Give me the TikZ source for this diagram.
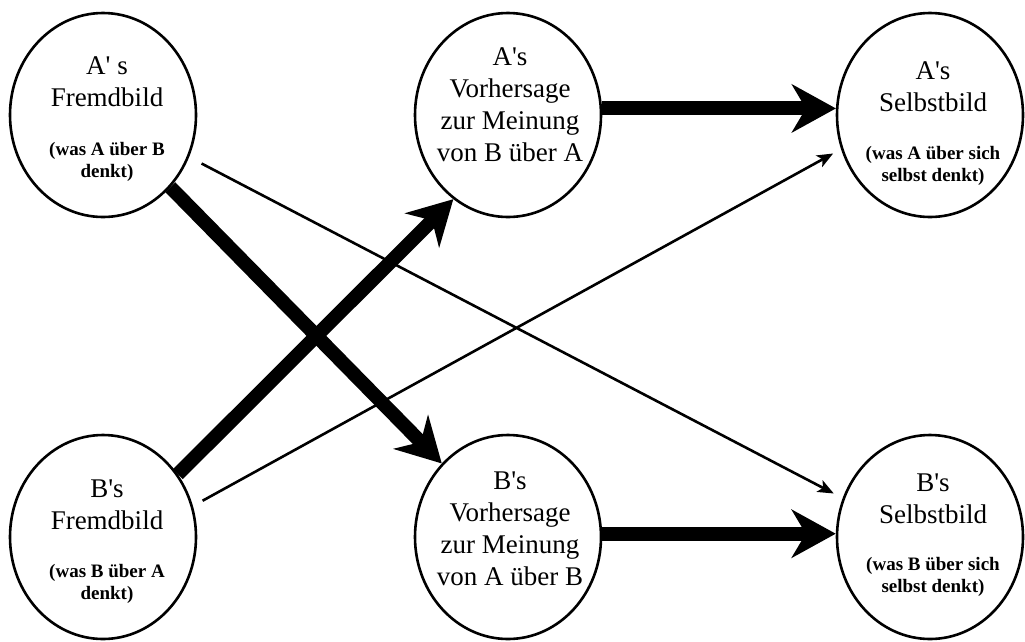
\documentclass[tikz,border=0pt]{standalone}
\usepackage{fontspec}
\setmainfont{Liberation Serif}
\usetikzlibrary{shapes.geometric,arrows.meta}

\begin{document}
\begin{tikzpicture}[x=1pt,y=-1pt,
  view/.style={draw, line width=2.6pt, ellipse, minimum width=186pt,
    minimum height=204pt, inner sep=0pt},
  bigtxt/.style={align=center, font=\fontsize{27}{32}\selectfont, inner sep=0pt},
  smalltxt/.style={align=center, font=\fontsize{19}{22}\selectfont\bfseries, inner sep=0pt},
  strong/.style={line width=14pt, -{Stealth[length=44pt,width=48pt,inset=14pt]}},
  weak/.style={line width=2.6pt, -{Stealth[length=16pt,width=13pt,inset=4pt]}}]
\useasboundingbox (0,0) rectangle (1025,641);

% the six views
\node[view] (af) at (103,115) {};
\node[view] (av) at (508,115) {};
\node[view] (as) at (930,115) {};
\node[view] (bf) at (103,537) {};
\node[view] (bv) at (508,537) {};
\node[view] (bs) at (930,537) {};

% labels
\node[bigtxt]   (af1) at (107,82)  {A\textquotesingle\ s\\Fremdbild};
\node[smalltxt] (af2) at (107,162) {(was A über B\\denkt)};
\node[bigtxt]   (av1) at (510,105) {A\textquotesingle s\\Vorhersage\\zur Meinung\\von B über A};
\node[bigtxt]   (as1) at (933,87)  {A\textquotesingle s\\Selbstbild};
\node[smalltxt] (as2) at (933,166) {(was A über sich\\selbst denkt)};
\node[bigtxt]   (bf1) at (107,505) {B\textquotesingle s\\Fremdbild};
\node[smalltxt] (bf2) at (107,584) {(was B über A\\denkt)};
\node[bigtxt]   (bv1) at (510,529) {B\textquotesingle s\\Vorhersage\\zur Meinung\\von A über B};
\node[bigtxt]   (bs1) at (933,499) {B\textquotesingle s\\Selbstbild};
\node[smalltxt] (bs2) at (933,577) {(was B über sich\\selbst denkt)};

% thin arrows
\draw[weak, shorten <=14pt, shorten >=10pt] (af.-26) -- (bs.156);
\draw[weak, shorten <=11pt, shorten >=9pt] (bf.19) -- (as.-159);

% thick arrows
\draw[strong] (af.-47) -- (bv.132);
\draw[strong] (bf.40) -- (av.237);
\draw[strong] (av.4) -- (as.176);
\draw[strong] (bv.2) -- (bs.178);
\end{tikzpicture}
\end{document}
